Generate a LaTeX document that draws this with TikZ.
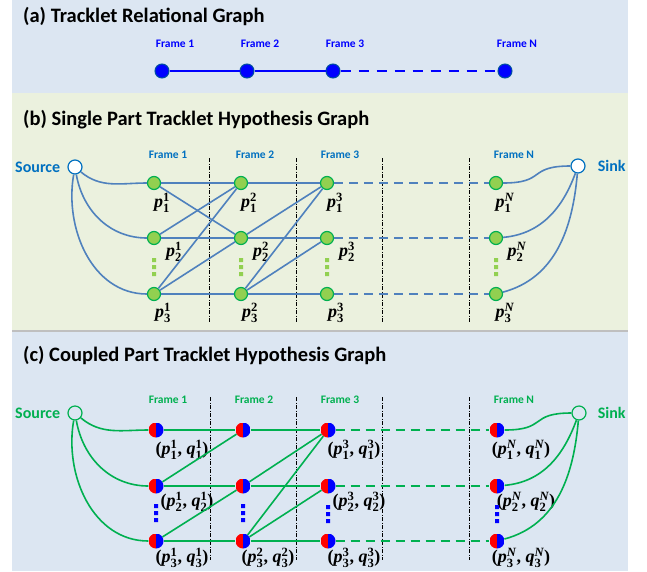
\documentclass[tikz,border=0pt]{standalone}
\usepackage[no-math]{fontspec}
\setmainfont{Carlito}
\newfontfamily\labfont{Liberation Serif}
\usepackage{amsmath}
\usetikzlibrary{positioning}
\definecolor{panelblue}{RGB}{220,230,242}
\definecolor{panelgreen}{RGB}{235,241,222}
\definecolor{nodeblue}{RGB}{0,0,255}
\definecolor{rimblue}{RGB}{0,80,160}
\definecolor{lineblue}{RGB}{79,129,189}
\definecolor{textblue}{RGB}{0,112,192}
\definecolor{leafgreen}{RGB}{146,208,80}
\definecolor{rimgreen}{RGB}{0,176,80}
\definecolor{linegreen}{RGB}{0,176,80}
\newcommand{\tlab}[3]{\textbf{\textit{#1}}$_{\text{\bfseries\upshape #2}}^{\text{\bfseries\upshape #3}}$}

\begin{document}
\begin{tikzpicture}[x=1pt, y=-1pt,
  ttl/.style={anchor=west, inner sep=0pt, font=\fontsize{20.5}{24}\selectfont\bfseries},
  frm/.style={inner sep=0pt, font=\fontsize{11.5}{13}\selectfont\bfseries},
  endtxt/.style={inner sep=0pt, font=\fontsize{16}{19}\selectfont\bfseries},
  term/.style={circle, minimum size=14pt, inner sep=0pt, line width=1.2pt},
  anode/.style={circle, minimum size=14pt, inner sep=0pt, fill=nodeblue, draw=rimblue, line width=1pt},
  bnode/.style={circle, minimum size=13pt, inner sep=0pt, fill=leafgreen, draw=rimgreen, line width=1.2pt},
  cnode/.style={circle, minimum size=15pt, inner sep=0pt, path picture={
      \fill[red] (path picture bounding box.south west) rectangle (path picture bounding box.north);
      \fill[nodeblue] (path picture bounding box.south) rectangle (path picture bounding box.north east);}},
  lab/.style={inner sep=0pt, font=\fontsize{18}{21}\selectfont\labfont\bfseries},
  divider/.style={black, line width=0.7pt, dash pattern=on 4pt off 1.5pt on 1pt off 1.5pt},
  ea/.style={draw=nodeblue, line width=1.8pt},
  eb/.style={draw=lineblue, line width=1.6pt},
  ec/.style={draw=linegreen, line width=1.6pt},
  dashgap/.style={dash pattern=on 9pt off 6pt}
]
  \useasboundingbox (0,0) rectangle (647,571);
  % panels
  \fill[panelblue] (12,0) rectangle (628,93);
  \fill[panelgreen] (12,93) rectangle (628,330);
  \fill[black!25] (12,330) rectangle (628,332);
  \fill[panelblue] (12,332) rectangle (628,571);

  % (a)
  \node[ttl] (ttla) at (23,17) {(a) Tracklet Relational Graph};
  \node[anode] (a1) at (162,71) {};
  \node[anode] (a2) at (247,71) {};
  \node[anode] (a3) at (333,71) {};
  \node[anode] (an) at (505,71) {};
  \node[frm, text=nodeblue, above=16pt of a1, xshift=13pt] (fa1) {Frame 1};
  \node[frm, text=nodeblue, above=16pt of a2, xshift=13pt] (fa2) {Frame 2};
  \node[frm, text=nodeblue, above=16pt of a3, xshift=12pt] (fa3) {Frame 3};
  \node[frm, text=nodeblue, above=16pt of an, xshift=12pt] (fan) {Frame N};
  \draw[ea] (a1) -- (a2) -- (a3);
  \draw[ea, dash pattern=on 10pt off 8pt] (a3) -- (an);

  % (b)
  \node[ttl] (ttlb) at (23,120) {(b) Single Part Tracklet Hypothesis Graph};
  \node[term, draw=textblue, fill=white] (srcb) at (75,167) {};
  \node[term, draw=textblue, fill=white] (sinkb) at (578,166) {};
  \node[endtxt, text=textblue, left=7pt of srcb] (srcbtxt) {Source};
  \node[endtxt, text=textblue, right=12pt of sinkb] (sinkbtxt) {Sink};

  \node[bnode] (b11) at (154,183) {};
  \node[bnode] (b21) at (154,238) {};
  \node[bnode] (b31) at (154,294) {};
  \node[bnode] (b12) at (241,183) {};
  \node[bnode] (b22) at (241,238) {};
  \node[bnode] (b32) at (241,294) {};
  \node[bnode] (b13) at (327,183) {};
  \node[bnode] (b23) at (327,238) {};
  \node[bnode] (b33) at (327,294) {};
  \node[bnode] (b1n) at (496,183) {};
  \node[bnode] (b2n) at (496,238) {};
  \node[bnode] (b3n) at (496,294) {};

  \node[frm, text=textblue, above=17pt of b11, xshift=14pt] (fb1) {Frame 1};
  \node[frm, text=textblue, above=17pt of b12, xshift=14pt] (fb2) {Frame 2};
  \node[frm, text=textblue, above=17pt of b13, xshift=13pt] (fb3) {Frame 3};
  \node[frm, text=textblue, above=17pt of b1n, xshift=18pt] (fbn) {Frame N};

  \node[lab] (lb11) at ([shift={(8,20)}]b11) {\tlab{p}{1}{1}};
  \node[lab] (lb21) at ([shift={(20,14)}]b21) {\tlab{p}{2}{1}};
  \node[lab] (lb31) at ([shift={(9,19)}]b31) {\tlab{p}{3}{1}};
  \node[lab] (lb12) at ([shift={(8,20)}]b12) {\tlab{p}{1}{2}};
  \node[lab] (lb22) at ([shift={(20,14)}]b22) {\tlab{p}{2}{2}};
  \node[lab] (lb32) at ([shift={(9,19)}]b32) {\tlab{p}{3}{2}};
  \node[lab] (lb13) at ([shift={(8,20)}]b13) {\tlab{p}{1}{3}};
  \node[lab] (lb23) at ([shift={(20,14)}]b23) {\tlab{p}{2}{3}};
  \node[lab] (lb33) at ([shift={(9,19)}]b33) {\tlab{p}{3}{3}};
  \node[lab] (lb1n) at ([shift={(9,20)}]b1n) {\tlab{p}{1}{\itshape N}};
  \node[lab] (lb2n) at ([shift={(21,14)}]b2n) {\tlab{p}{2}{\itshape N}};
  \node[lab] (lb3n) at ([shift={(9,19)}]b3n) {\tlab{p}{3}{\itshape N}};

  \draw[divider] (209,158) -- (209,322);
  \draw[divider] (296,158) -- (296,322);
  \draw[divider] (382,158) -- (382,322);
  \draw[divider] (469,158) -- (469,322);

  \fill[leafgreen] (152,258) rectangle ++(4,4) (152,265) rectangle ++(4,4) (152,272) rectangle ++(4,4);
  \fill[leafgreen] (239,258) rectangle ++(4,4) (239,265) rectangle ++(4,4) (239,272) rectangle ++(4,4);
  \fill[leafgreen] (325,258) rectangle ++(4,4) (325,265) rectangle ++(4,4) (325,272) rectangle ++(4,4);
  \fill[leafgreen] (494,258) rectangle ++(4,4) (494,265) rectangle ++(4,4) (494,272) rectangle ++(4,4);

  \draw[eb] (srcb) to[out=-40, in=180] (b11);
  \draw[eb] (srcb) to[out=-80, in=180] (b21);
  \draw[eb] (srcb) to[out=-100, in=180] (b31);
  \draw[eb] (b11) -- (b12) -- (b13);
  \draw[eb] (b21) -- (b22) -- (b23);
  \draw[eb] (b31) -- (b32) -- (b33);
  \draw[eb] (b11) -- (b22);
  \draw[eb] (b21) -- (b12);
  \draw[eb] (b31) -- (b12);
  \draw[eb] (b31) -- (b22);
  \draw[eb] (b22) -- (b13);
  \draw[eb] (b32) -- (b13);
  \draw[eb] (b32) -- (b23);
  \draw[eb, dashgap] (b13) -- (b1n);
  \draw[eb, dashgap] (b23) -- (b2n);
  \draw[eb, dashgap] (b33) -- (b3n);
  \draw[eb] (b1n) to[out=0, in=180, looseness=1.6] (sinkb);
  \draw[eb] (b2n) to[out=5, in=-110] (sinkb);
  \draw[eb] (b3n) to[out=15, in=-95] (sinkb);

  % (c)
  \node[ttl] (ttlc) at (23,355) {(c) Coupled Part Tracklet Hypothesis Graph};
  \node[term, draw=linegreen, fill=panelblue] (srcc) at (75,413) {};
  \node[term, draw=linegreen, fill=panelblue] (sinkc) at (579,413) {};
  \node[endtxt, text=linegreen, left=7pt of srcc] (srcctxt) {Source};
  \node[endtxt, text=linegreen, right=11pt of sinkc] (sinkctxt) {Sink};

  \node[cnode] (c11) at (156,430) {};
  \node[cnode] (c21) at (156,486) {};
  \node[cnode] (c31) at (156,541) {};
  \node[cnode] (c12) at (243,430) {};
  \node[cnode] (c22) at (243,486) {};
  \node[cnode] (c32) at (243,541) {};
  \node[cnode] (c13) at (328,430) {};
  \node[cnode] (c23) at (328,486) {};
  \node[cnode] (c33) at (328,541) {};
  \node[cnode] (c1n) at (497,430) {};
  \node[cnode] (c2n) at (497,486) {};
  \node[cnode] (c3n) at (497,541) {};

  \node[frm, text=linegreen, above=19pt of c11, xshift=12pt] (fc1) {Frame 1};
  \node[frm, text=linegreen, above=19pt of c12, xshift=11pt] (fc2) {Frame 2};
  \node[frm, text=linegreen, above=19pt of c13, xshift=12pt] (fc3) {Frame 3};
  \node[frm, text=linegreen, above=19pt of c1n, xshift=17pt] (fcn) {Frame N};

  \node[lab] (lc11) at ([shift={(26,20)}]c11) {(\tlab{p}{1}{1}, \tlab{q}{1}{1})};
  \node[lab] (lc21) at ([shift={(31,16)}]c21) {(\tlab{p}{2}{1}, \tlab{q}{2}{1})};
  \node[lab] (lc31) at ([shift={(26,17)}]c31) {(\tlab{p}{3}{1}, \tlab{q}{3}{1})};
  \node[lab] (lc32) at ([shift={(25,17)}]c32) {(\tlab{p}{3}{2}, \tlab{q}{3}{2})};
  \node[lab] (lc13) at ([shift={(26,20)}]c13) {(\tlab{p}{1}{3}, \tlab{q}{1}{3})};
  \node[lab] (lc23) at ([shift={(31,16)}]c23) {(\tlab{p}{2}{3}, \tlab{q}{2}{3})};
  \node[lab] (lc33) at ([shift={(26,17)}]c33) {(\tlab{p}{3}{3}, \tlab{q}{3}{3})};
  \node[lab] (lc1n) at ([shift={(24,20)}]c1n) {(\tlab{p}{1}{\itshape N}, \tlab{q}{1}{\itshape N})};
  \node[lab] (lc2n) at ([shift={(29,16)}]c2n) {(\tlab{p}{2}{\itshape N}, \tlab{q}{2}{\itshape N})};
  \node[lab] (lc3n) at ([shift={(24,17)}]c3n) {(\tlab{p}{3}{\itshape N}, \tlab{q}{3}{\itshape N})};

  \draw[divider] (210,397) -- (210,560);
  \draw[divider] (296,397) -- (296,560);
  \draw[divider] (382,397) -- (382,560);
  \draw[divider] (469,397) -- (469,560);

  \fill[nodeblue] (154,504) rectangle ++(4,4) (154,511) rectangle ++(4,4) (154,518) rectangle ++(4,4);
  \fill[nodeblue] (241,504) rectangle ++(4,4) (241,511) rectangle ++(4,4) (241,518) rectangle ++(4,4);
  \fill[nodeblue] (326,505) rectangle ++(4,4) (326,512) rectangle ++(4,4) (326,519) rectangle ++(4,4);
  \fill[nodeblue] (495,505) rectangle ++(4,4) (495,512) rectangle ++(4,4) (495,519) rectangle ++(4,4);

  \draw[ec] (srcc) to[out=-40, in=180] (c11);
  \draw[ec] (srcc) to[out=-80, in=180] (c21);
  \draw[ec] (srcc) to[out=-100, in=180] (c31);
  \draw[ec] (c11) -- (c12) -- (c13);
  \draw[ec] (c21) -- (c22) -- (c23);
  \draw[ec] (c31) -- (c32) -- (c33);
  \draw[ec] (c21) -- (c12);
  \draw[ec] (c31) -- (c22);
  \draw[ec] (c22) -- (c13);
  \draw[ec] (c32) -- (c13);
  \draw[ec] (c32) -- (c23);
  \draw[ec, dashgap] (c13) -- (c1n);
  \draw[ec, dashgap] (c23) -- (c2n);
  \draw[ec, dashgap] (c33) -- (c3n);
  \draw[ec] (c1n) to[out=0, in=180, looseness=1.6] (sinkc);
  \draw[ec] (c2n) to[out=5, in=-110] (sinkc);
  \draw[ec] (c3n) to[out=15, in=-95] (sinkc);
\end{tikzpicture}
\end{document}
